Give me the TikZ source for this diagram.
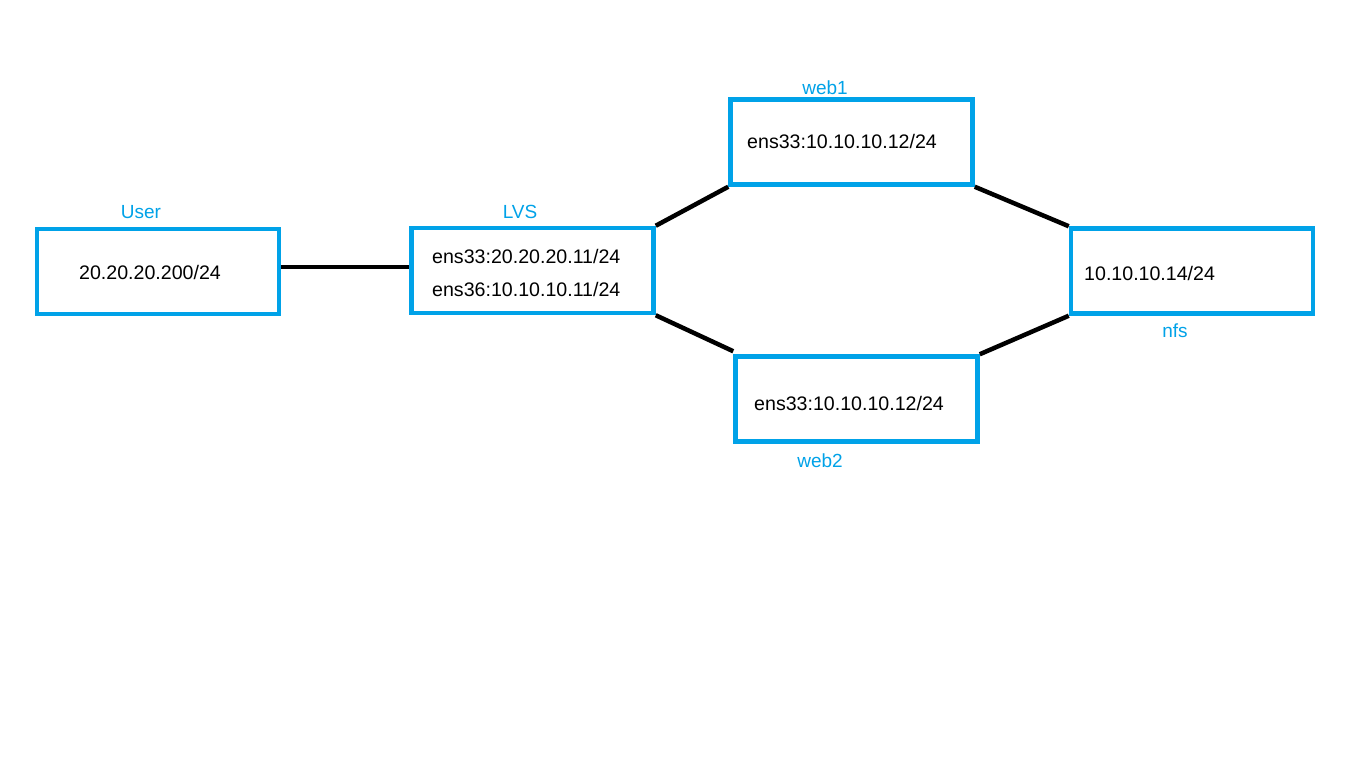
\documentclass[tikz,border=0pt]{standalone}
\usepackage{fontspec}
\setmainfont{Liberation Sans}
\definecolor{boxblue}{HTML}{00A2E8}
\begin{document}
\begin{tikzpicture}[x=1pt,y=-1pt,
  hostbox/.style={draw=boxblue,line width=4.5pt,minimum width=242pt,minimum height=85pt,inner sep=0pt},
  addr/.style={anchor=west,inner sep=0pt,font=\fontsize{19.6}{22}\selectfont,text=black},
  tag/.style={inner sep=0pt,font=\fontsize{19}{22}\selectfont,text=boxblue},
  wire/.style={draw=black,line width=4.5pt}]
\useasboundingbox (0,0) rectangle (1366,768);
\fill[white] (0,0) rectangle (1366,768);
% boxes
\node[hostbox] (user) at (158,271.5) {};
\node[hostbox] (lvs)  at (532.5,270.5) {};
\node[hostbox] (web1) at (851.5,142) {};
\node[hostbox] (web2) at (856.5,399) {};
\node[hostbox] (nfs)  at (1192,271) {};
% connectors
\draw[wire] ([yshift=4.5pt]user.east) -- ([yshift=3.5pt]lvs.west);
\draw[wire] (lvs.north east) -- (web1.south west);
\draw[wire] (lvs.south east) -- ([yshift=3pt]web2.north west);
\draw[wire] (web1.south east) -- (nfs.north west);
\draw[wire] (web2.north east) -- (nfs.south west);
% labels
\node[tag] (userlbl) at (141,212) {User};
\node[tag] (lvslbl)  at (520,212) {LVS};
\node[tag] (web1lbl) at (825,88) {web1};
\node[tag] (web2lbl) at (820,461) {web2};
\node[tag] (nfslbl)  at (1175,331) {nfs};
% addresses
\node[addr] (usera) at (79,272) {20.20.20.200/24};
\node[addr] (lvsa)  at (432,256) {ens33:20.20.20.11/24};
\node[addr] (lvsb)  at (432,289) {ens36:10.10.10.11/24};
\node[addr] (web1a) at (747,141) {ens33:10.10.10.12/24};
\node[addr] (web2a) at (754,403) {ens33:10.10.10.12/24};
\node[addr] (nfsa)  at (1084,273) {10.10.10.14/24};
\end{tikzpicture}
\end{document}
